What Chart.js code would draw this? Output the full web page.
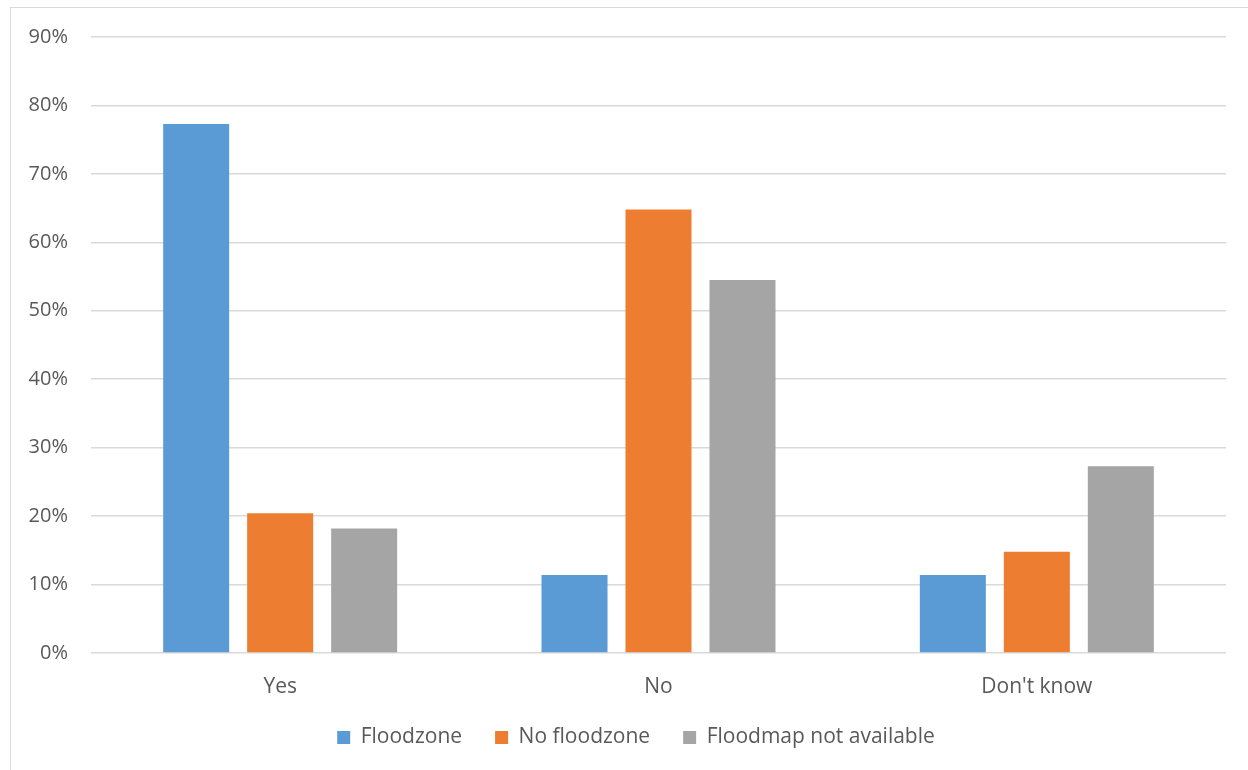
<!DOCTYPE html>
<html>
<head>
<meta charset="utf-8">
<script src="https://cdn.jsdelivr.net/npm/chart.js@4.4.1/dist/chart.umd.min.js"></script>
<style>
  html, body { margin: 0; padding: 0; background: #ffffff; overflow: hidden; }
  #frame {
    position: absolute; left: 10px; top: 7px;
    width: 1260px; height: 800px;
    border: 1px solid #d9d9d9; box-sizing: border-box;
  }
  #wrap { position: absolute; left: 0; top: 0; width: 1248px; height: 770px; }
</style>
</head>
<body>
<div id="frame"></div>
<div id="wrap"><canvas id="chart" width="1248" height="770"></canvas></div>
<script>
// Survey answers grouped by flood-map status (share of respondents, %)
const categories = ["Yes", "No", "Don't know"];
const floodzone = [77.3, 11.4, 11.4];
const noFloodzone = [20.4, 64.8, 14.8];
const floodmapNotAvailable = [18.2, 54.5, 27.3];
const seriesNames = ["Floodzone", "No floodzone", "Floodmap not available"];
const seriesColors = ["#5B9BD5", "#ED7D31", "#A5A5A5"];
const yMax = 90;
const yStep = 10;

const textColor = "#595959";
const gridColor = "#d9d9d9";
const fontFamily = "'Open Sans', 'Liberation Sans', sans-serif";

const datasets = [floodzone, noFloodzone, floodmapNotAvailable].map((values, i) => ({
  label: seriesNames[i],
  data: values,
  backgroundColor: seriesColors[i],
  borderWidth: 0,
  categoryPercentage: 0.666,
  barPercentage: 0.786
}));

// Let tick labels extend past their scale box instead of being clipped to it
const noLabelClip = (scale) => { scale._computeLabelArea = () => undefined; };

new Chart(document.getElementById("chart"), {
  type: "bar",
  data: { labels: categories, datasets },
  options: {
    responsive: false,
    animation: false,
    layout: { padding: { left: 46, right: 22, top: 37, bottom: 12 } },
    plugins: {
      tooltip: { enabled: false },
      legend: {
        position: "bottom",
        labels: {
          color: textColor,
          font: { family: fontFamily, size: 21 },
          boxWidth: 13,
          boxHeight: 13,
          padding: 33
        }
      }
    },
    scales: {
      x: {
        grid: { display: false },
        border: { display: false },
        ticks: {
          color: textColor,
          font: { family: fontFamily, size: 21 },
          padding: 13
        },
        afterFit(scale) { scale.height = 41; noLabelClip(scale); }
      },
      y: {
        min: 0,
        max: yMax,
        grid: { color: gridColor, lineWidth: 1.5, drawTicks: false },
        border: { display: false },
        ticks: {
          stepSize: yStep,
          color: textColor,
          font: { family: fontFamily, size: 20 },
          padding: 23,
          callback: (v) => v + "%"
        },
        afterFit(scale) {
          scale.width = 45;
          scale.paddingTop = 0;
          scale.paddingBottom = 0;
          noLabelClip(scale);
        }
      }
    }
  }
});
</script>
</body>
</html>
